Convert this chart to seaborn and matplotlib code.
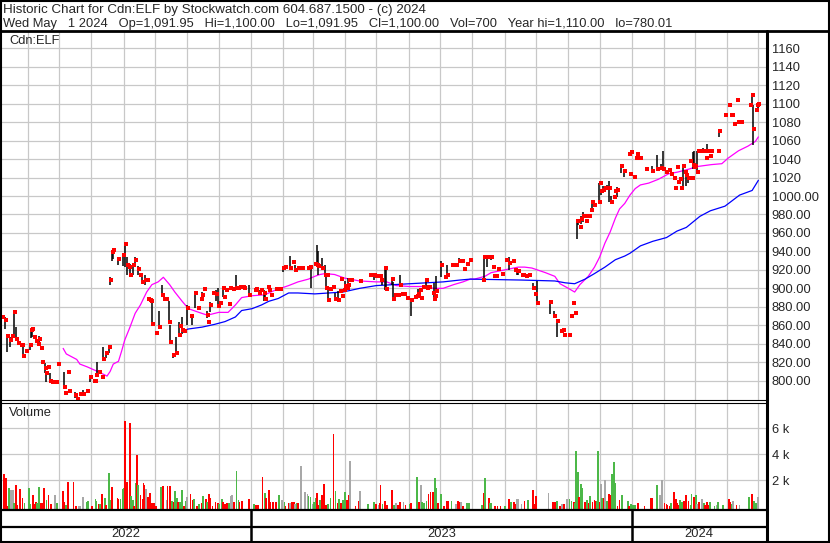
import matplotlib
matplotlib.use("Agg")
import matplotlib.pyplot as plt
import numpy as np
import pandas as pd
import seaborn as sns
from matplotlib.lines import Line2D

# day offsets are counted from this date
start = pd.Timestamp("2022-05-01")

header1 = "Historic Chart for Cdn:ELF by Stockwatch.com 604.687.1500 - (c) 2024"
header2 = ("Wed May   1 2024   Op=1,091.95   Hi=1,100.00   Lo=1,091.95   "
           "Cl=1,100.00   Vol=700   Year hi=1,110.00   lo=780.01")

# daily bars: day offset, high, low, close
bar_day = [6, 9, 11, 14, 16, 18, 20, 22, 25, 26,
           27, 29, 33, 34, 35, 37, 39, 41, 42, 44,
           45, 48, 49, 51, 52, 54, 58, 60, 66, 67,
           70, 71, 76, 78, 81, 84, 88, 91, 95, 96,
           97, 99, 102, 103, 106, 109, 110, 112, 113, 118,
           122, 124, 126, 128, 129, 132, 134, 137, 139, 141,
           143, 145, 146, 148, 149, 150, 154, 157, 160, 162,
           164, 166, 167, 170, 173, 176, 177, 179, 181, 184,
           188, 191, 194, 197, 198, 200, 203, 204, 206, 209,
           211, 213, 215, 218, 219, 221, 224, 225, 228, 231,
           233, 234, 237, 238, 243, 249, 250, 253, 255, 257,
           258, 261, 262, 264, 269, 273, 276, 278, 282, 285,
           287, 290, 293, 294, 300, 302, 306, 308, 309, 313,
           316, 317, 318, 319, 321, 324, 325, 328, 330, 331,
           332, 334, 335, 337, 338, 339, 341, 349, 359, 363,
           365, 367, 369, 370, 373, 374, 380, 381, 383, 386,
           388, 390, 392, 394, 398, 402, 404, 405, 407, 408,
           410, 413, 414, 415, 416, 419, 420, 421, 422, 427,
           431, 433, 438, 441, 444, 447, 449, 452, 455, 467,
           468, 471, 474, 475, 477, 478, 480, 482, 485, 489,
           492, 496, 498, 500, 501, 505, 506, 508, 511, 515,
           517, 519, 531, 535, 538, 542, 544, 545, 550, 552,
           553, 555, 557, 558, 560, 561, 563, 565, 566, 569,
           571, 572, 574, 578, 579, 580, 582, 584, 586, 588,
           590, 593, 594, 596, 599, 602, 607, 608, 609, 612,
           614, 615, 618, 623, 629, 634, 638, 640, 643, 645,
           647, 650, 651, 653, 654, 656, 657, 659, 661, 662,
           664, 666, 667, 668, 669, 670, 672, 673, 674, 678,
           681, 682, 685, 686, 692, 693, 699, 703, 705, 706,
           708, 711, 712, 714, 723, 725, 726, 729, 730, 731]
bar_hi = [869, 869, 850, 847, 848, 874, 858, 841, 839, 839,
          841, 832, 841, 856, 856, 847, 846, 840, 848, 835,
          820, 819, 809, 815, 808, 799, 799, 818, 809, 787,
          809, 790, 788, 780, 786, 790, 789, 805, 800, 800,
          820, 809, 804, 837, 830, 837, 912, 941, 941, 934,
          937, 949, 934, 923, 926, 925, 934, 924, 915, 913,
          914, 909, 888, 887, 886, 886, 852, 875, 904, 888,
          888, 886, 860, 830, 847, 864, 859, 869, 855, 882,
          871, 895, 879, 888, 896, 899, 876, 864, 885, 895,
          898, 900, 884, 902, 891, 898, 883, 900, 899, 914,
          900, 901, 901, 900, 904, 898, 899, 898, 898, 898,
          896, 901, 898, 893, 899, 899, 923, 923, 935, 929,
          925, 922, 922, 922, 922, 923, 926, 947, 940, 933,
          925, 914, 914, 900, 899, 901, 895, 897, 897, 910,
          892, 898, 908, 900, 911, 909, 909, 910, 914, 916,
          913, 913, 913, 913, 924, 923, 911, 907, 893, 893,
          914, 894, 894, 890, 887, 891, 892, 899, 898, 890,
          901, 911, 900, 902, 902, 895, 906, 892, 913, 930,
          912, 925, 925, 925, 933, 930, 921, 926, 931, 909,
          934, 934, 934, 934, 923, 913, 913, 921, 916, 931,
          934, 930, 922, 920, 920, 915, 915, 915, 914, 906,
          894, 908, 885, 875, 866, 854, 855, 850, 850, 870,
          884, 875, 975, 975, 966, 978, 983, 978, 973, 978,
          985, 995, 996, 1014, 1014, 1007, 1011, 1009, 1012, 1016,
          1000, 999, 1008, 1010, 1034, 1028, 1045, 1024, 1048, 1021,
          1041, 1045, 1041, 1029, 1032, 1044, 1035, 1049, 1026, 1028,
          1024, 1020, 1009, 1031, 1017, 1018, 1009, 1033, 1026, 1026,
          1021, 1038, 1020, 1048, 1049, 1032, 1049, 1049, 1049, 1052,
          1041, 1056, 1043, 1049, 1049, 1071, 1088, 1099, 1088, 1088,
          1078, 1104, 1080, 1080, 1099, 1110, 1099, 1093, 1099, 1100]
bar_lo = [869, 856, 831, 836, 848, 846, 844, 841, 839, 839,
          827, 832, 833, 846, 847, 847, 843, 840, 840, 835,
          820, 808, 799, 815, 799, 799, 799, 818, 793, 787,
          809, 787, 781, 780, 786, 786, 789, 799, 800, 800,
          805, 809, 804, 823, 825, 830, 904, 930, 932, 925,
          924, 923, 915, 923, 914, 914, 924, 914, 915, 906,
          904, 909, 888, 887, 886, 861, 852, 858, 893, 888,
          888, 864, 840, 825, 829, 848, 859, 851, 853, 860,
          860, 879, 879, 888, 889, 899, 868, 864, 874, 895,
          886, 880, 884, 891, 891, 898, 883, 900, 899, 898,
          900, 901, 901, 900, 892, 898, 899, 895, 898, 886,
          886, 901, 898, 893, 899, 899, 918, 923, 922, 929,
          920, 922, 922, 922, 922, 900, 926, 925, 914, 922,
          914, 900, 914, 887, 899, 901, 886, 887, 897, 910,
          892, 898, 900, 900, 904, 909, 909, 907, 914, 909,
          913, 913, 913, 904, 898, 897, 904, 889, 893, 893,
          904, 894, 894, 890, 870, 891, 892, 891, 898, 890,
          901, 900, 900, 902, 902, 895, 887, 892, 896, 912,
          912, 913, 925, 925, 929, 930, 921, 926, 931, 909,
          911, 923, 934, 931, 923, 913, 913, 921, 916, 931,
          920, 930, 918, 915, 914, 915, 915, 912, 914, 900,
          894, 884, 872, 870, 847, 854, 855, 850, 850, 870,
          884, 873, 953, 969, 966, 970, 972, 978, 973, 978,
          985, 987, 989, 992, 1014, 1001, 1003, 1009, 1006, 994,
          991, 999, 1003, 999, 1025, 1021, 1045, 1024, 1048, 1021,
          1041, 1045, 1041, 1029, 1027, 1029, 1028, 1028, 1026, 1028,
          1024, 1020, 1009, 1031, 1014, 1018, 1009, 1009, 1026, 1011,
          1014, 1038, 1020, 1029, 1030, 1032, 1026, 1049, 1049, 1049,
          1041, 1049, 1043, 1049, 1049, 1064, 1088, 1099, 1088, 1088,
          1078, 1104, 1080, 1080, 1099, 1099, 1055, 1093, 1099, 1092]
bar_cl = [869, 866, 848, 844, 848, 874, 845, 841, 839, 839,
          827, 832, 839, 855, 856, 847, 843, 840, 845, 835,
          820, 814, 808, 815, 800, 799, 799, 818, 793, 787,
          809, 789, 784, 780, 786, 786, 789, 804, 800, 800,
          806, 809, 804, 823, 830, 837, 909, 939, 941, 932,
          936, 948, 925, 923, 914, 925, 931, 921, 915, 907,
          909, 909, 888, 887, 886, 861, 852, 858, 893, 888,
          888, 864, 842, 828, 830, 849, 859, 855, 854, 879,
          870, 895, 879, 888, 893, 899, 871, 864, 882, 895,
          894, 881, 884, 900, 891, 898, 883, 900, 899, 900,
          900, 901, 901, 900, 893, 898, 899, 895, 898, 895,
          889, 901, 898, 893, 899, 899, 922, 923, 922, 929,
          920, 922, 922, 922, 922, 923, 926, 925, 924, 922,
          914, 900, 914, 887, 899, 901, 889, 887, 897, 910,
          892, 898, 903, 900, 904, 909, 909, 908, 914, 915,
          913, 913, 913, 909, 922, 899, 910, 889, 893, 893,
          904, 894, 894, 890, 887, 891, 892, 894, 898, 890,
          901, 909, 900, 902, 902, 895, 889, 892, 897, 925,
          912, 914, 925, 925, 930, 930, 921, 926, 931, 909,
          934, 934, 934, 934, 923, 913, 913, 921, 916, 931,
          927, 930, 920, 919, 919, 915, 915, 913, 914, 900,
          894, 884, 885, 870, 865, 854, 855, 850, 850, 870,
          884, 873, 973, 973, 966, 975, 978, 978, 973, 978,
          985, 994, 990, 994, 1014, 1005, 1007, 1009, 1009, 1009,
          994, 999, 1005, 1007, 1032, 1027, 1045, 1024, 1048, 1021,
          1041, 1045, 1041, 1029, 1027, 1029, 1030, 1029, 1026, 1028,
          1024, 1020, 1009, 1031, 1015, 1018, 1009, 1032, 1026, 1023,
          1019, 1038, 1020, 1034, 1031, 1032, 1026, 1049, 1049, 1049,
          1041, 1049, 1043, 1049, 1049, 1070, 1088, 1099, 1088, 1088,
          1078, 1104, 1080, 1080, 1099, 1109, 1073, 1093, 1099, 1100]

# moving averages
ma_fast_day = [65, 68, 73, 78, 81, 88, 94, 100, 107, 110,
               113, 118, 121, 124, 129, 134, 139, 145, 150, 156,
               161, 167, 172, 179, 185, 195, 203, 207, 214, 223,
               230, 236, 246, 258, 268, 281, 290, 300, 306, 311,
               316, 325, 335, 349, 365, 375, 384, 397, 410, 420,
               429, 439, 448, 455, 459, 469, 475, 488, 501, 507,
               514, 527, 536, 541, 549, 555, 560, 568, 574, 579,
               584, 589, 594, 598, 603, 608, 613, 618, 626, 635,
               645, 654, 664, 673, 686, 696, 702, 712, 721, 728, 731]
ma_fast = [835, 829, 826, 823, 818, 815, 812, 809, 805, 810,
           818, 821, 832, 844, 858, 873, 882, 896, 904, 907,
           912, 904, 896, 886, 878, 874, 871, 872, 874, 874,
           882, 890, 892, 893, 898, 903, 907, 910, 913, 915,
           916, 915, 911, 908, 907, 907, 903, 902, 902, 900,
           900, 904, 907, 910, 910, 913, 917, 920, 923, 923,
           922, 917, 913, 905, 900, 896, 904, 913, 923, 934,
           949, 961, 976, 986, 992, 1001, 1008, 1012, 1014, 1018,
           1024, 1026, 1029, 1032, 1034, 1035, 1041, 1049, 1054, 1059, 1064]
ma_slow_day = [179, 185, 198, 210, 220, 230, 236, 246, 255, 262,
               271, 281, 290, 306, 333, 349, 365, 381, 397, 429,
               445, 455, 504, 536, 546, 555, 565, 574, 584, 594,
               603, 608, 618, 630, 643, 653, 662, 675, 685, 699,
               713, 725, 731]
ma_slow = [854, 856, 858, 861, 864, 869, 876, 878, 882, 886,
           889, 895, 895, 894, 896, 900, 903, 904, 905, 907,
           909, 910, 909, 908, 906, 905, 910, 916, 923, 931,
           935, 938, 946, 951, 955, 962, 966, 978, 984, 989,
           1001, 1006, 1017]

# volume (shares) and direction: r = down, g = up, n = unchanged
vol_day = [8, 10, 11, 13, 15, 17, 18, 20, 21, 24,
           26, 28, 32, 33, 36, 37, 39, 40, 42, 44,
           45, 47, 49, 51, 53, 57, 59, 65, 66, 68,
           70, 75, 77, 80, 81, 84, 88, 89, 93, 96,
           97, 99, 100, 102, 105, 106, 109, 110, 112, 117,
           118, 120, 122, 123, 124, 126, 129, 130, 132, 133,
           135, 136, 137, 139, 141, 142, 143, 144, 146, 147,
           148, 150, 152, 154, 159, 161, 164, 165, 167, 169,
           171, 172, 174, 175, 177, 179, 181, 183, 184, 187,
           189, 190, 193, 195, 198, 199, 202, 203, 205, 206,
           208, 211, 213, 214, 217, 218, 220, 222, 224, 226,
           227, 229, 231, 233, 234, 236, 243, 248, 250, 252,
           256, 258, 259, 262, 263, 266, 269, 272, 275, 277,
           278, 281, 282, 284, 286, 287, 289, 290, 293, 297,
           299, 300, 302, 304, 305, 307, 308, 309, 311, 313,
           315, 317, 319, 321, 324, 326, 328, 329, 331, 333,
           335, 337, 339, 340, 345, 348, 349, 357, 363, 365,
           367, 368, 369, 371, 373, 375, 380, 382, 384, 386,
           388, 391, 393, 397, 398, 404, 406, 408, 409, 411,
           413, 415, 417, 419, 421, 422, 424, 427, 430, 433,
           434, 437, 441, 443, 445, 446, 448, 452, 454, 466,
           468, 469, 473, 474, 475, 479, 481, 484, 488, 492,
           494, 497, 498, 500, 501, 504, 507, 510, 515, 517,
           518, 530, 534, 536, 538, 541, 543, 545, 548, 550,
           552, 554, 555, 556, 558, 559, 561, 562, 565, 567,
           569, 570, 572, 574, 575, 576, 577, 579, 580, 581,
           583, 584, 586, 588, 589, 590, 591, 593, 594, 596,
           598, 600, 606, 607, 609, 611, 613, 616, 622, 628,
           629, 634, 637, 639, 641, 643, 644, 646, 647, 650,
           652, 653, 655, 656, 658, 660, 662, 664, 666, 667,
           669, 671, 672, 674, 677, 679, 680, 682, 683, 685,
           689, 691, 692, 697, 703, 704, 706, 707, 710, 713,
           722, 725, 727, 729, 731]
vol = [2480, 2200, 50, 1430, 1250, 1250, 230, 1640, 100, 1330,
       660, 250, 1410, 180, 900, 150, 330, 230, 1480, 250,
       250, 1410, 510, 900, 150, 900, 250, 1180, 300, 100,
       1870, 1870, 50, 50, 50, 720, 330, 410, 50, 560,
       410, 180, 200, 950, 660, 130, 2560, 480, 1480, 610,
       560, 540, 1360, 1380, 6560, 1840, 6410, 790, 460, 50,
       1790, 3950, 1640, 870, 560, 1790, 1640, 1330, 740, 360,
       1020, 280, 250, 50, 1480, 1590, 480, 1560, 1560, 410,
       300, 1180, 610, 360, 360, 1230, 50, 410, 720, 970,
       460, 560, 50, 180, 230, 820, 560, 360, 950, 640,
       50, 360, 230, 150, 560, 360, 200, 250, 230, 820,
       870, 360, 2720, 460, 300, 410, 560, 180, 100, 100,
       2250, 1020, 610, 1280, 360, 360, 360, 870, 460, 300,
       50, 250, 230, 300, 300, 180, 230, 250, 3100, 1100,
       920, 770, 720, 150, 300, 660, 1020, 100, 510, 870,
       1720, 100, 200, 610, 5540, 1180, 280, 560, 250, 510,
       1130, 510, 870, 3480, 50, 410, 1200, 150, 360, 200,
       100, 230, 1640, 150, 410, 100, 1230, 100, 230, 100,
       300, 300, 100, 150, 230, 2250, 300, 1640, 360, 230,
       410, 970, 1070, 1100, 2180, 1430, 230, 950, 50, 410,
       410, 410, 180, 410, 300, 300, 50, 250, 250, 100,
       1020, 2180, 610, 230, 230, 50, 50, 50, 50, 590,
       300, 360, 200, 560, 560, 150, 410, 510, 1280, 200,
       770, 1020, 360, 360, 410, 50, 150, 150, 560, 560,
       410, 300, 250, 4260, 2640, 720, 1690, 1430, 300, 460,
       250, 820, 300, 460, 410, 410, 4260, 300, 1690, 610,
       660, 2000, 410, 950, 870, 870, 2480, 3380, 1790, 50,
       460, 870, 410, 50, 150, 100, 100, 250, 50, 660,
       660, 1640, 870, 2000, 250, 200, 100, 50, 230, 1100,
       560, 230, 100, 460, 300, 410, 870, 410, 100, 950,
       720, 870, 150, 300, 560, 230, 100, 300, 100, 300,
       50, 100, 300, 100, 560, 360, 200, 410, 100, 100,
       740, 950, 410, 230, 700]
vol_dir = ("rrrgnngrrr" "rgggrrrggr" "rrgrrngrrg" "rrrnnnggrg" "grgrgrggrr"
           "rgggrrrggr" "grgrrrrnrr" "rrrrgrnrrg" "rggrggrgnr" "rgrgrgrgrr"
           "rrrggrrrgn" "nrggrrrgrr" "rgrrrrrgng" "rrnrrngrnn" "nggnggrrgr"
           "rrggrgrgrg" "grrnrrnggr" "nrrgrrrgnr" "rnrgrgrngg" "grrrggrgrr"
           "rgnrrnrggg" "rgrggrrrgr" "grrnnnrgrr" "rnrrgrnrng" "grgggrggrg"
           "rgrrrggrng" "rngrrrgggr" "rggrgggrrr" "rgnnrrrrgr" "rrrggrrrgg"
           "rgnrngrrrg" "gnggrrgnrn" "grggn")

price_ticks = list(range(800, 1161, 20))
vol_ticks = [2, 4, 6]
years = ["2022", "2023", "2024"]

assert len(bar_day) == len(bar_hi) == len(bar_lo) == len(bar_cl)
assert len(vol_day) == len(vol) == len(vol_dir)

sns.set_style("white")
plt.rcParams["font.family"] = ["Liberation Sans", "DejaVu Sans"]
FS = 9.3

W, H = 830, 543
fig = plt.figure(figsize=(W / 100, H / 100), dpi=100)


def fx(px):
    return px / W


def fy(py):
    return 1 - py / H


def fline(x0, y0, x1, y1, lw=1.5):
    fig.add_artist(Line2D([fx(x0), fx(x1)], [fy(y0), fy(y1)],
                          transform=fig.transFigure, color="black", lw=lw))


x_lo, x_hi = 4.5, 738.3
months = pd.date_range("2022-06-01", "2024-05-01", freq="MS")
month_days = (months - start).days
year_days = (pd.to_datetime(["2023-01-01", "2024-01-01"]) - start).days
grid_col = "#c8c8c8"

# price panel
ax = fig.add_axes([fx(0), fy(400), fx(766), (400 - 32) / H])
ax.set_xlim(x_lo, x_hi)
ax.set_ylim(779.1, 1177.6)
ax.set_xticks(month_days)
ax.set_yticks(price_ticks)
ax.set_yticklabels([str(v) if v > 1000 else f"{v:.2f}" for v in price_ticks])
ax.grid(True, color=grid_col, lw=0.9)
ax.yaxis.tick_right()
ax.tick_params(length=0, labelbottom=False, labelright=True, labelsize=FS, pad=4)
for s in ax.spines.values():
    s.set_visible(False)

bd = np.array(bar_day, dtype=float)
hi = np.array(bar_hi)
lo = np.array(bar_lo)
rng = hi > lo
ax.vlines(bd[rng], lo[rng], hi[rng], color="black", lw=1.1, zorder=3)
sns.lineplot(x=ma_fast_day, y=ma_fast, ax=ax, color="#ff00ff", lw=0.9,
             estimator=None, zorder=2)
sns.lineplot(x=ma_slow_day, y=ma_slow, ax=ax, color="#0000ff", lw=0.9,
             estimator=None, zorder=2)
sns.scatterplot(x=bd + 0.9, y=bar_cl, ax=ax, marker="s", s=6.5, color="red",
                linewidth=0, zorder=4)
ax.set_xlabel("")
ax.set_ylabel("")

# volume panel
axv = fig.add_axes([fx(0), fy(509), fx(766), (509 - 403) / H])
axv.set_xlim(x_lo, x_hi)
axv.set_ylim(-0.21, 7.95)
axv.set_xticks(month_days)
axv.set_yticks(vol_ticks)
axv.set_yticklabels([f"{v} k" for v in vol_ticks])
axv.grid(True, color=grid_col, lw=0.9)
axv.yaxis.tick_right()
axv.tick_params(length=0, labelbottom=False, labelright=True, labelsize=FS, pad=4)
for s in axv.spines.values():
    s.set_visible(False)
cmap = {"r": "#ff0000", "g": "#4cb848", "n": "#a8a8a8"}
axv.bar(vol_day, np.array(vol) / 1000 + 0.21, bottom=-0.21, width=1.7,
        color=[cmap[c] for c in vol_dir], linewidth=0, zorder=3)

# year strip
axb = fig.add_axes([fx(0), fy(542), fx(766), (542 - 509) / H])
axb.set_xlim(x_lo, x_hi)
axb.set_ylim(0, 1)
axb.axis("off")
edges = [x_lo] + list(year_days) + [x_hi]
for d in year_days:
    axb.axvline(d, color="black", lw=1.8)
for i, yr in enumerate(years):
    axb.text((edges[i] + edges[i + 1]) / 2, 0.25, yr, ha="center", va="center",
             fontsize=FS)

# labels and header
fig.text(fx(9), fy(41), "Cdn:ELF", fontsize=FS, va="center")
fig.text(fx(9), fy(413), "Volume", fontsize=FS, va="center")
fig.text(fx(3), fy(10), header1, fontsize=9.6, va="center")
fig.text(fx(3), fy(23.5), header2, fontsize=FS, va="center")

# frame lines
fline(0, 0.8, 830, 0.8, 1.5)
fline(0, 542.2, 830, 542.2, 1.5)
fline(0.8, 0, 0.8, 543, 1.5)
fline(829.2, 0, 829.2, 543, 1.5)
fline(0, 31, 830, 31, 2)
fline(767, 31, 767, 543, 2.2)
fline(0, 400, 767, 400, 0.8)
fline(0, 402.5, 767, 402.5, 0.8)
fline(0, 509.5, 767, 509.5, 1.6)
fline(0, 527, 767, 527, 1.6)

fig.savefig("out.png", dpi=100, facecolor="white")
